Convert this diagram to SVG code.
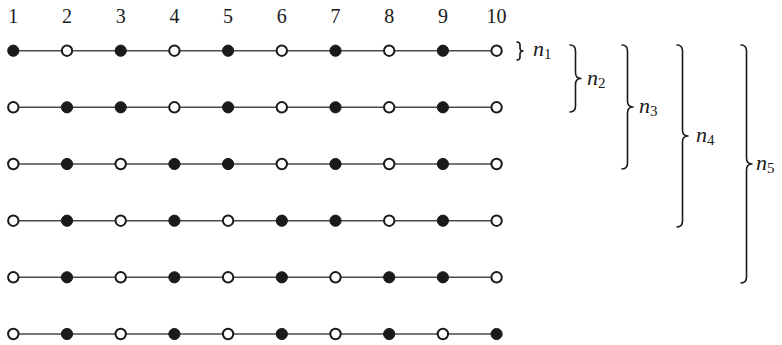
<svg xmlns="http://www.w3.org/2000/svg" width="782" height="345" viewBox="0 0 782 345">
<style>
.f{fill:#1a1a1a;stroke:#1a1a1a;stroke-width:1}
.o{fill:#fff;stroke:#1a1a1a;stroke-width:2}
.ln{stroke:#4a4a4a;stroke-width:1.4;fill:none}
.br{stroke:#1a1a1a;stroke-width:1.6;fill:none;stroke-linejoin:round;stroke-linecap:round}
.num{font-family:'Liberation Serif',serif;font-size:20px;fill:#1a1a1a;text-anchor:middle}
.lab{font-family:'Liberation Serif',serif;font-size:22px;font-style:italic;fill:#1a1a1a}
.sub{font-size:15px;font-style:normal}
</style>
<rect width="782" height="345" fill="#fff"/>
<g id="column-labels">
<text class="num" x="13.3" y="23">1</text>
<text class="num" x="67" y="23">2</text>
<text class="num" x="120.7" y="23">3</text>
<text class="num" x="174.4" y="23">4</text>
<text class="num" x="228.1" y="23">5</text>
<text class="num" x="281.8" y="23">6</text>
<text class="num" x="335.5" y="23">7</text>
<text class="num" x="389.2" y="23">8</text>
<text class="num" x="442.9" y="23">9</text>
<text class="num" x="496.6" y="23">10</text>
</g>
<g id="connectors">
<line class="ln" x1="13.3" y1="50.7" x2="496.6" y2="50.7"/>
<line class="ln" x1="13.3" y1="107.3" x2="496.6" y2="107.3"/>
<line class="ln" x1="13.3" y1="164" x2="496.6" y2="164"/>
<line class="ln" x1="13.3" y1="220.7" x2="496.6" y2="220.7"/>
<line class="ln" x1="13.3" y1="277.3" x2="496.6" y2="277.3"/>
<line class="ln" x1="13.3" y1="334" x2="496.6" y2="334"/>
</g>
<g id="row1">
<g id="r1c1"><circle class="f" cx="13.3" cy="50.7" r="5.6"/></g>
<g id="r1c2"><circle class="o" cx="67" cy="50.7" r="5.2"/></g>
<g id="r1c3"><circle class="f" cx="120.7" cy="50.7" r="5.6"/></g>
<g id="r1c4"><circle class="o" cx="174.4" cy="50.7" r="5.2"/></g>
<g id="r1c5"><circle class="f" cx="228.1" cy="50.7" r="5.6"/></g>
<g id="r1c6"><circle class="o" cx="281.8" cy="50.7" r="5.2"/></g>
<g id="r1c7"><circle class="f" cx="335.5" cy="50.7" r="5.6"/></g>
<g id="r1c8"><circle class="o" cx="389.2" cy="50.7" r="5.2"/></g>
<g id="r1c9"><circle class="f" cx="442.9" cy="50.7" r="5.6"/></g>
<g id="r1c10"><circle class="o" cx="496.6" cy="50.7" r="5.2"/></g>
</g>
<g id="row2">
<g id="r2c1"><circle class="o" cx="13.3" cy="107.3" r="5.2"/></g>
<g id="r2c2"><circle class="f" cx="67" cy="107.3" r="5.6"/></g>
<g id="r2c3"><circle class="f" cx="120.7" cy="107.3" r="5.6"/></g>
<g id="r2c4"><circle class="o" cx="174.4" cy="107.3" r="5.2"/></g>
<g id="r2c5"><circle class="f" cx="228.1" cy="107.3" r="5.6"/></g>
<g id="r2c6"><circle class="o" cx="281.8" cy="107.3" r="5.2"/></g>
<g id="r2c7"><circle class="f" cx="335.5" cy="107.3" r="5.6"/></g>
<g id="r2c8"><circle class="o" cx="389.2" cy="107.3" r="5.2"/></g>
<g id="r2c9"><circle class="f" cx="442.9" cy="107.3" r="5.6"/></g>
<g id="r2c10"><circle class="o" cx="496.6" cy="107.3" r="5.2"/></g>
</g>
<g id="row3">
<g id="r3c1"><circle class="o" cx="13.3" cy="164" r="5.2"/></g>
<g id="r3c2"><circle class="f" cx="67" cy="164" r="5.6"/></g>
<g id="r3c3"><circle class="o" cx="120.7" cy="164" r="5.2"/></g>
<g id="r3c4"><circle class="f" cx="174.4" cy="164" r="5.6"/></g>
<g id="r3c5"><circle class="f" cx="228.1" cy="164" r="5.6"/></g>
<g id="r3c6"><circle class="o" cx="281.8" cy="164" r="5.2"/></g>
<g id="r3c7"><circle class="f" cx="335.5" cy="164" r="5.6"/></g>
<g id="r3c8"><circle class="o" cx="389.2" cy="164" r="5.2"/></g>
<g id="r3c9"><circle class="f" cx="442.9" cy="164" r="5.6"/></g>
<g id="r3c10"><circle class="o" cx="496.6" cy="164" r="5.2"/></g>
</g>
<g id="row4">
<g id="r4c1"><circle class="o" cx="13.3" cy="220.7" r="5.2"/></g>
<g id="r4c2"><circle class="f" cx="67" cy="220.7" r="5.6"/></g>
<g id="r4c3"><circle class="o" cx="120.7" cy="220.7" r="5.2"/></g>
<g id="r4c4"><circle class="f" cx="174.4" cy="220.7" r="5.6"/></g>
<g id="r4c5"><circle class="o" cx="228.1" cy="220.7" r="5.2"/></g>
<g id="r4c6"><circle class="f" cx="281.8" cy="220.7" r="5.6"/></g>
<g id="r4c7"><circle class="f" cx="335.5" cy="220.7" r="5.6"/></g>
<g id="r4c8"><circle class="o" cx="389.2" cy="220.7" r="5.2"/></g>
<g id="r4c9"><circle class="f" cx="442.9" cy="220.7" r="5.6"/></g>
<g id="r4c10"><circle class="o" cx="496.6" cy="220.7" r="5.2"/></g>
</g>
<g id="row5">
<g id="r5c1"><circle class="o" cx="13.3" cy="277.3" r="5.2"/></g>
<g id="r5c2"><circle class="f" cx="67" cy="277.3" r="5.6"/></g>
<g id="r5c3"><circle class="o" cx="120.7" cy="277.3" r="5.2"/></g>
<g id="r5c4"><circle class="f" cx="174.4" cy="277.3" r="5.6"/></g>
<g id="r5c5"><circle class="o" cx="228.1" cy="277.3" r="5.2"/></g>
<g id="r5c6"><circle class="f" cx="281.8" cy="277.3" r="5.6"/></g>
<g id="r5c7"><circle class="o" cx="335.5" cy="277.3" r="5.2"/></g>
<g id="r5c8"><circle class="f" cx="389.2" cy="277.3" r="5.6"/></g>
<g id="r5c9"><circle class="f" cx="442.9" cy="277.3" r="5.6"/></g>
<g id="r5c10"><circle class="o" cx="496.6" cy="277.3" r="5.2"/></g>
</g>
<g id="row6">
<g id="r6c1"><circle class="o" cx="13.3" cy="334" r="5.2"/></g>
<g id="r6c2"><circle class="f" cx="67" cy="334" r="5.6"/></g>
<g id="r6c3"><circle class="o" cx="120.7" cy="334" r="5.2"/></g>
<g id="r6c4"><circle class="f" cx="174.4" cy="334" r="5.6"/></g>
<g id="r6c5"><circle class="o" cx="228.1" cy="334" r="5.2"/></g>
<g id="r6c6"><circle class="f" cx="281.8" cy="334" r="5.6"/></g>
<g id="r6c7"><circle class="o" cx="335.5" cy="334" r="5.2"/></g>
<g id="r6c8"><circle class="f" cx="389.2" cy="334" r="5.6"/></g>
<g id="r6c9"><circle class="o" cx="442.9" cy="334" r="5.2"/></g>
<g id="r6c10"><circle class="f" cx="496.6" cy="334" r="5.6"/></g>
</g>
<g id="brace1">
<path class="br" d="M517,42 Q520,42 520,45 L520,48 Q520,51 523,51 Q520,51 520,54 L520,57 Q520,60 517,60"/>
<text class="lab" x="533" y="56">n<tspan class="sub" dy="3">1</tspan></text>
</g>
<g id="brace2">
<path class="br" d="M570,45 Q575.5,45 575.5,51 L575.5,72.5 Q575.5,78.5 581,78.5 Q575.5,78.5 575.5,84.5 L575.5,106 Q575.5,112 570,112"/>
<text class="lab" x="587" y="85">n<tspan class="sub" dy="3">2</tspan></text>
</g>
<g id="brace3">
<path class="br" d="M622,45 Q627.5,45 627.5,51 L627.5,101 Q627.5,107 633,107 Q627.5,107 627.5,113 L627.5,163 Q627.5,169 622,169"/>
<text class="lab" x="639" y="113">n<tspan class="sub" dy="3">3</tspan></text>
</g>
<g id="brace4">
<path class="br" d="M677,45 Q682.5,45 682.5,51 L682.5,130 Q682.5,136 688,136 Q682.5,136 682.5,142 L682.5,221 Q682.5,227 677,227"/>
<text class="lab" x="696" y="142">n<tspan class="sub" dy="3">4</tspan></text>
</g>
<g id="brace5">
<path class="br" d="M741,45 Q746.5,45 746.5,51 L746.5,158 Q746.5,164 752,164 Q746.5,164 746.5,170 L746.5,277 Q746.5,283 741,283"/>
<text class="lab" x="756" y="170">n<tspan class="sub" dy="3">5</tspan></text>
</g>
</svg>
